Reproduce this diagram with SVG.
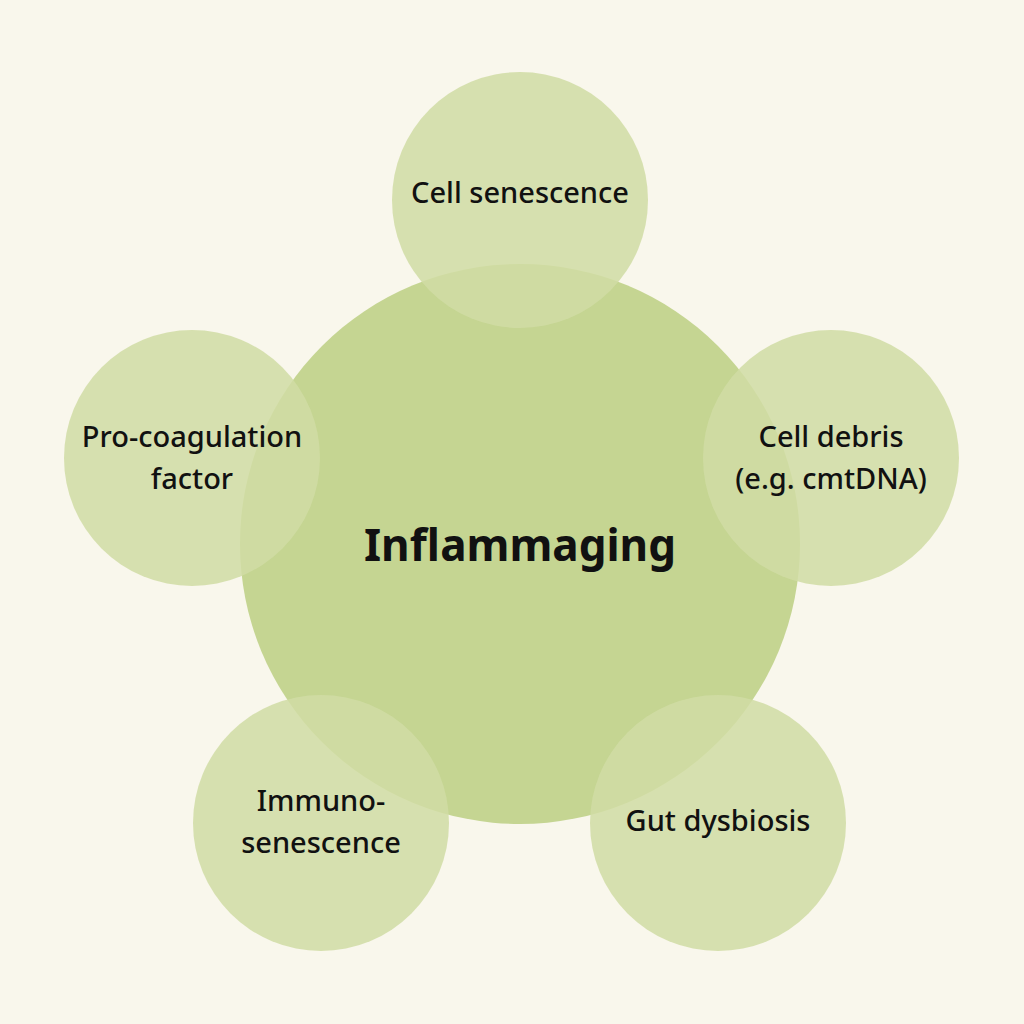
<svg xmlns="http://www.w3.org/2000/svg" width="1024" height="1024" viewBox="0 0 1024 1024">
<style>
.bg{fill:#f9f7ec}
.main{fill:#c5d592}
.sat{fill:#d0dca4;fill-opacity:0.86}
.lbl{font-family:"Noto Sans","Open Sans",sans-serif;font-size:29px;font-weight:500;fill:#111;text-anchor:middle}
.title{font-family:"Noto Sans","Open Sans",sans-serif;font-size:44px;font-weight:bold;fill:#111;text-anchor:middle}
</style>
<rect class="bg" width="1024" height="1024"/>
<g id="inflammaging">
<circle class="main" cx="520" cy="544" r="280"/>
<text class="title" x="520" y="561">Inflammaging</text>
</g>
<g id="connectors"></g>
<g id="cell-senescence">
<circle class="sat" cx="520" cy="200" r="128"/>
<text class="lbl" x="520" y="203">Cell senescence</text>
</g>
<g id="cell-debris">
<circle class="sat" cx="831" cy="458" r="128"/>
<text class="lbl" x="831" y="447">Cell debris</text>
<text class="lbl" x="831" y="489">(e.g. cmtDNA)</text>
</g>
<g id="gut-dysbiosis">
<circle class="sat" cx="718" cy="823" r="128"/>
<text class="lbl" x="718" y="831">Gut dysbiosis</text>
</g>
<g id="immunosenescence">
<circle class="sat" cx="321" cy="823" r="128"/>
<text class="lbl" x="321" y="811">Immuno-</text>
<text class="lbl" x="321" y="853">senescence</text>
</g>
<g id="pro-coagulation">
<circle class="sat" cx="192" cy="458" r="128"/>
<text class="lbl" x="192" y="447">Pro-coagulation</text>
<text class="lbl" x="192" y="489">factor</text>
</g>
</svg>
